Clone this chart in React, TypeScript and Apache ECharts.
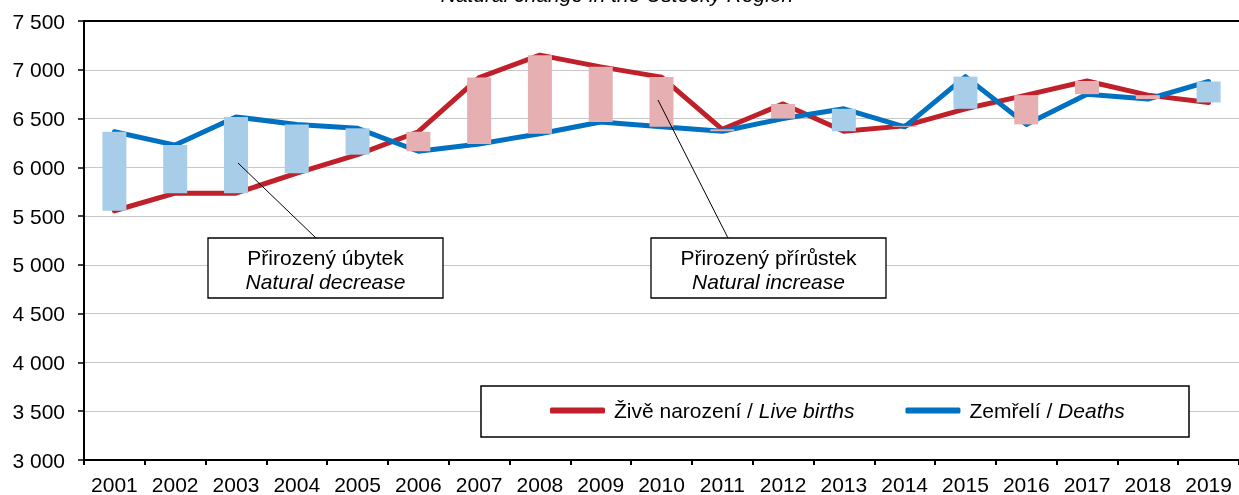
import React, { useEffect, useRef } from "react";
import * as echarts from "echarts";

const years = ["2001","2002","2003","2004","2005","2006","2007","2008","2009","2010","2011","2012","2013","2014","2015","2016","2017","2018","2019"];
const births = [5555, 5735, 5735, 5940, 6130, 6365, 6920, 7150, 7030, 6925, 6390, 6650, 6370, 6425, 6600, 6740, 6885, 6740, 6665];
const deaths = [6365, 6228, 6517, 6440, 6400, 6165, 6240, 6345, 6465, 6415, 6370, 6500, 6600, 6415, 6930, 6440, 6750, 6700, 6880];
const yMin = 3000;
const yMax = 7500;
const yStep = 500;

const FONT = "'Liberation Sans', Arial, sans-serif";
const FS = 21;

export default function App() {
  const ref = useRef<HTMLDivElement>(null);
  useEffect(() => {
    if (!ref.current) return;
    const chart = echarts.init(ref.current, null, { renderer: "svg" });
    const base = births.map((b, i) => Math.min(b, deaths[i]));
    const inc = births.map((b, i) => (b > deaths[i] ? b - deaths[i] : 0));
    const dec = births.map((b, i) => (b < deaths[i] ? deaths[i] - b : 0));
    chart.setOption({
      animation: false,
      textStyle: { fontFamily: FONT },
      grid: { left: 84, right: -1, top: 21, bottom: 33, containLabel: false },
      xAxis: [
        {
          type: "category",
          data: years,
          boundaryGap: true,
          axisLine: { lineStyle: { color: "#000", width: 2 } },
          axisTick: { show: true, length: 5, lineStyle: { color: "#000", width: 2 }, alignWithLabel: false },
          axisLabel: { color: "#000", fontSize: FS, fontFamily: FONT, margin: 14, interval: 0 },
        },
        {
          type: "category",
          data: years,
          position: "top",
          axisLine: { show: true, lineStyle: { color: "#000", width: 2 } },
          axisTick: { show: false },
          axisLabel: { show: false },
        },
      ],
      yAxis: {
        type: "value",
        min: yMin,
        max: yMax,
        interval: yStep,
        axisLine: { show: true, lineStyle: { color: "#000", width: 2 } },
        axisTick: { show: true, length: 6, lineStyle: { color: "#000", width: 1.5 } },
        axisLabel: {
          color: "#000",
          fontSize: FS,
          fontFamily: FONT,
          margin: 19,
          formatter: (v: number) => {
            const s = String(v);
            return s.length > 3 ? s.slice(0, s.length - 3) + " " + s.slice(-3) : s;
          },
        },
        splitLine: { lineStyle: { color: "#C8C8C8", width: 1 } },
      },
      legend: {
        data: ["Živě narození / Live births", "Zemřelí / Deaths"],
        left: 550,
        top: 400,
        padding: 0,
        itemWidth: 55,
        itemHeight: 6,
        itemGap: 51,
        icon: "roundRect",
        z: 6,
        formatter: (name: string) => {
          const [a, b] = name.split(" / ");
          return "{n|" + a + " / }{i|" + b + "}";
        },
        textStyle: {
          padding: [0, 0, 0, 4],
          rich: {
            n: { fontSize: FS, color: "#000", fontFamily: FONT },
            i: { fontSize: FS, color: "#000", fontStyle: "italic", fontFamily: FONT },
          },
        },
      },
      graphic: [
        {
          type: "text",
          x: 617,
          y: 5,
          z: 10,
          style: {
            text: "Natural change in the Ústecký Region",
            font: "italic " + FS + "px " + FONT,
            fill: "#000",
            align: "center",
            verticalAlign: "bottom",
          },
        },
        {
          type: "rect",
          z: 5,
          shape: { x: 481, y: 386, width: 708, height: 51 },
          style: { fill: "#fff", stroke: "#000", lineWidth: 1.5 },
        },
        {
          type: "line",
          z: 10,
          shape: { x1: 238, y1: 163, x2: 316, y2: 238 },
          style: { stroke: "#000", lineWidth: 1 },
        },
        {
          type: "rect",
          z: 10,
          shape: { x: 208, y: 238, width: 235, height: 60 },
          style: { fill: "#fff", stroke: "#000", lineWidth: 1.3 },
        },
        {
          type: "text",
          z: 11,
          x: 325.5,
          y: 257,
          style: { text: "Přirozený úbytek", font: FS + "px " + FONT, fill: "#000", align: "center", verticalAlign: "middle" },
        },
        {
          type: "text",
          z: 11,
          x: 325.5,
          y: 281,
          style: { text: "Natural decrease", font: "italic " + FS + "px " + FONT, fill: "#000", align: "center", verticalAlign: "middle" },
        },
        {
          type: "line",
          z: 10,
          shape: { x1: 658, y1: 100, x2: 728, y2: 238 },
          style: { stroke: "#000", lineWidth: 1 },
        },
        {
          type: "rect",
          z: 10,
          shape: { x: 651, y: 238, width: 235, height: 60 },
          style: { fill: "#fff", stroke: "#000", lineWidth: 1.3 },
        },
        {
          type: "text",
          z: 11,
          x: 768.5,
          y: 257,
          style: { text: "Přirozený přírůstek", font: FS + "px " + FONT, fill: "#000", align: "center", verticalAlign: "middle" },
        },
        {
          type: "text",
          z: 11,
          x: 768.5,
          y: 281,
          style: { text: "Natural increase", font: "italic " + FS + "px " + FONT, fill: "#000", align: "center", verticalAlign: "middle" },
        },
      ],
      series: [
        {
          name: "Živě narození / Live births",
          type: "line",
          data: births,
          z: 2,
          symbol: "none",
          lineStyle: { color: "#C0202A", width: 5, cap: "round", join: "round" },
          itemStyle: { color: "#C0202A" },
        },
        {
          name: "Zemřelí / Deaths",
          type: "line",
          data: deaths,
          z: 2,
          symbol: "none",
          lineStyle: { color: "#0070C0", width: 5, cap: "round", join: "round" },
          itemStyle: { color: "#0070C0" },
        },
        {
          name: "base",
          type: "bar",
          stack: "diff",
          data: base,
          barWidth: 24,
          z: 3,
          itemStyle: { color: "transparent" },
          silent: true,
        },
        {
          name: "increase",
          type: "bar",
          stack: "diff",
          data: inc,
          barWidth: 24,
          z: 3,
          itemStyle: { color: "#E6B0B3" },
        },
        {
          name: "decrease",
          type: "bar",
          stack: "diff",
          data: dec,
          barWidth: 24,
          z: 3,
          itemStyle: { color: "#A7CDE8" },
        },
      ],
    });
    return () => chart.dispose();
  }, []);
  return <div ref={ref} style={{ position: "fixed", left: 0, top: 0, width: 1239, height: 495 }} />;
}
